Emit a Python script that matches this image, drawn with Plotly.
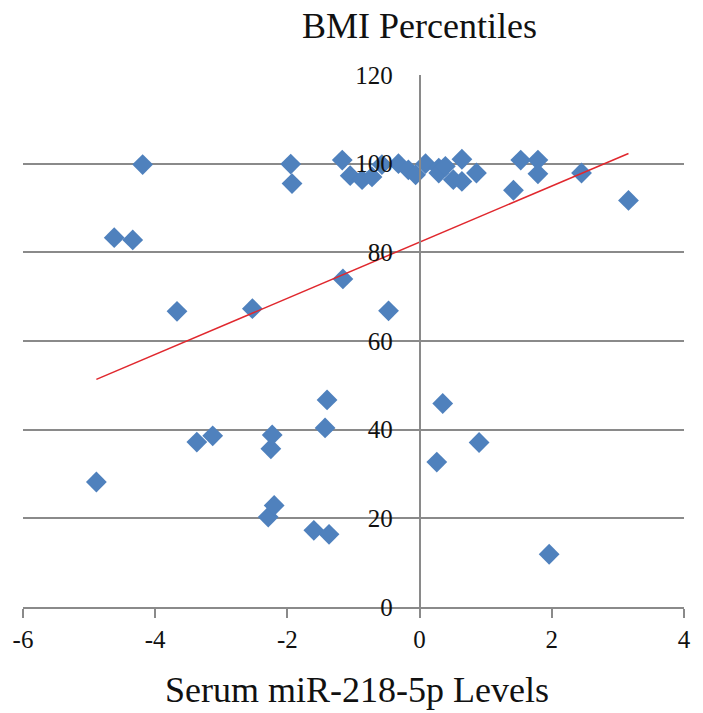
import numpy as np
import plotly.graph_objects as go

# Data
mir_levels = [-4.89, -4.62, -4.34, -4.19, -3.67, -3.37, -3.13, -2.53, -2.29, -2.25,
              -2.23, -2.20, -1.95, -1.93, -1.60, -1.43, -1.40, -1.37, -1.16, -1.17,
              -1.05, -0.87, -0.72, -0.57, -0.47, -0.32, -0.17, -0.06, 0.09, 0.29,
              0.29, 0.39, 0.35, 0.26, 0.51, 0.64, 0.64, 0.86, 0.90, 1.42,
              1.53, 1.79, 1.79, 1.96, 2.45, 3.16]
bmi_pct = [28.2, 83.3, 82.8, 99.8, 66.7, 37.2, 38.6, 67.3, 20.3, 35.7,
           38.8, 22.9, 99.9, 95.5, 17.3, 40.4, 46.7, 16.4, 74.0, 100.8,
           97.3, 96.4, 97.0, 99.8, 66.8, 100.0, 98.6, 97.5, 100.0, 99.0,
           97.9, 99.4, 45.9, 32.7, 96.4, 101.0, 96.0, 97.9, 37.1, 94.0,
           100.8, 100.8, 97.7, 11.9, 97.9, 91.7]

# Trendline as drawn in the reference (slope / intercept)
trend_slope = 6.33
trend_intercept = 82.3

x_ticks = [-6, -4, -2, 0, 2, 4]
y_ticks = [0, 20, 40, 60, 80, 100, 120]

title_text = "BMI Percentiles"
xtitle_text = "Serum miR-218-5p Levels"

fit_x = np.array([min(mir_levels), max(mir_levels)])
fit_y = trend_slope * fit_x + trend_intercept

FONT = "Liberation Serif, Times New Roman, serif"
GRID = "#8a8a8a"

fig = go.Figure()
fig.add_trace(go.Scatter(
    x=mir_levels, y=bmi_pct, mode="markers",
    marker=dict(symbol="diamond", size=16, color="#4F81BD", line=dict(width=0)),
    showlegend=False, hoverinfo="skip"))
fig.add_trace(go.Scatter(
    x=fit_x, y=fit_y, mode="lines",
    line=dict(color="#E0282E", width=1.5),
    showlegend=False, hoverinfo="skip"))

fig.update_layout(
    width=703, height=713,
    margin=dict(l=23, r=16, t=75, b=106),
    paper_bgcolor="white", plot_bgcolor="white",
    font=dict(family=FONT, size=25, color="#000000"),
    xaxis=dict(
        range=[-6, 4], tickvals=x_ticks, ticktext=[str(v) for v in x_ticks],
        showgrid=False, zeroline=False,
        showline=True, linecolor=GRID, linewidth=1.5,
        ticks="outside", ticklen=9, tickcolor=GRID, tickwidth=1.5,
        tickfont=dict(family=FONT, size=25, color="#111"),
        ticklabelstandoff=0,
    ),
    yaxis=dict(
        range=[0, 120], tickvals=y_ticks, ticktext=[str(v) for v in y_ticks],
        anchor="free", position=0.6,
        showgrid=True, gridcolor=GRID, gridwidth=1.5,
        zeroline=False,
        showline=True, linecolor=GRID, linewidth=1.5,
        ticks="", tickfont=dict(family=FONT, size=25, color="#111"),
        ticklabelstandoff=21,
    ),
    annotations=[
        dict(text=title_text, xref="x", x=0, yref="paper", y=1.093,
             xanchor="center", yanchor="middle", showarrow=False,
             font=dict(family=FONT, size=36, color="#111")),
        dict(text=xtitle_text, xref="paper", x=0.506, yref="paper", y=-0.1566,
             xanchor="center", yanchor="middle", showarrow=False,
             font=dict(family=FONT, size=36, color="#111")),
    ],
)

fig.write_html("out.html")
